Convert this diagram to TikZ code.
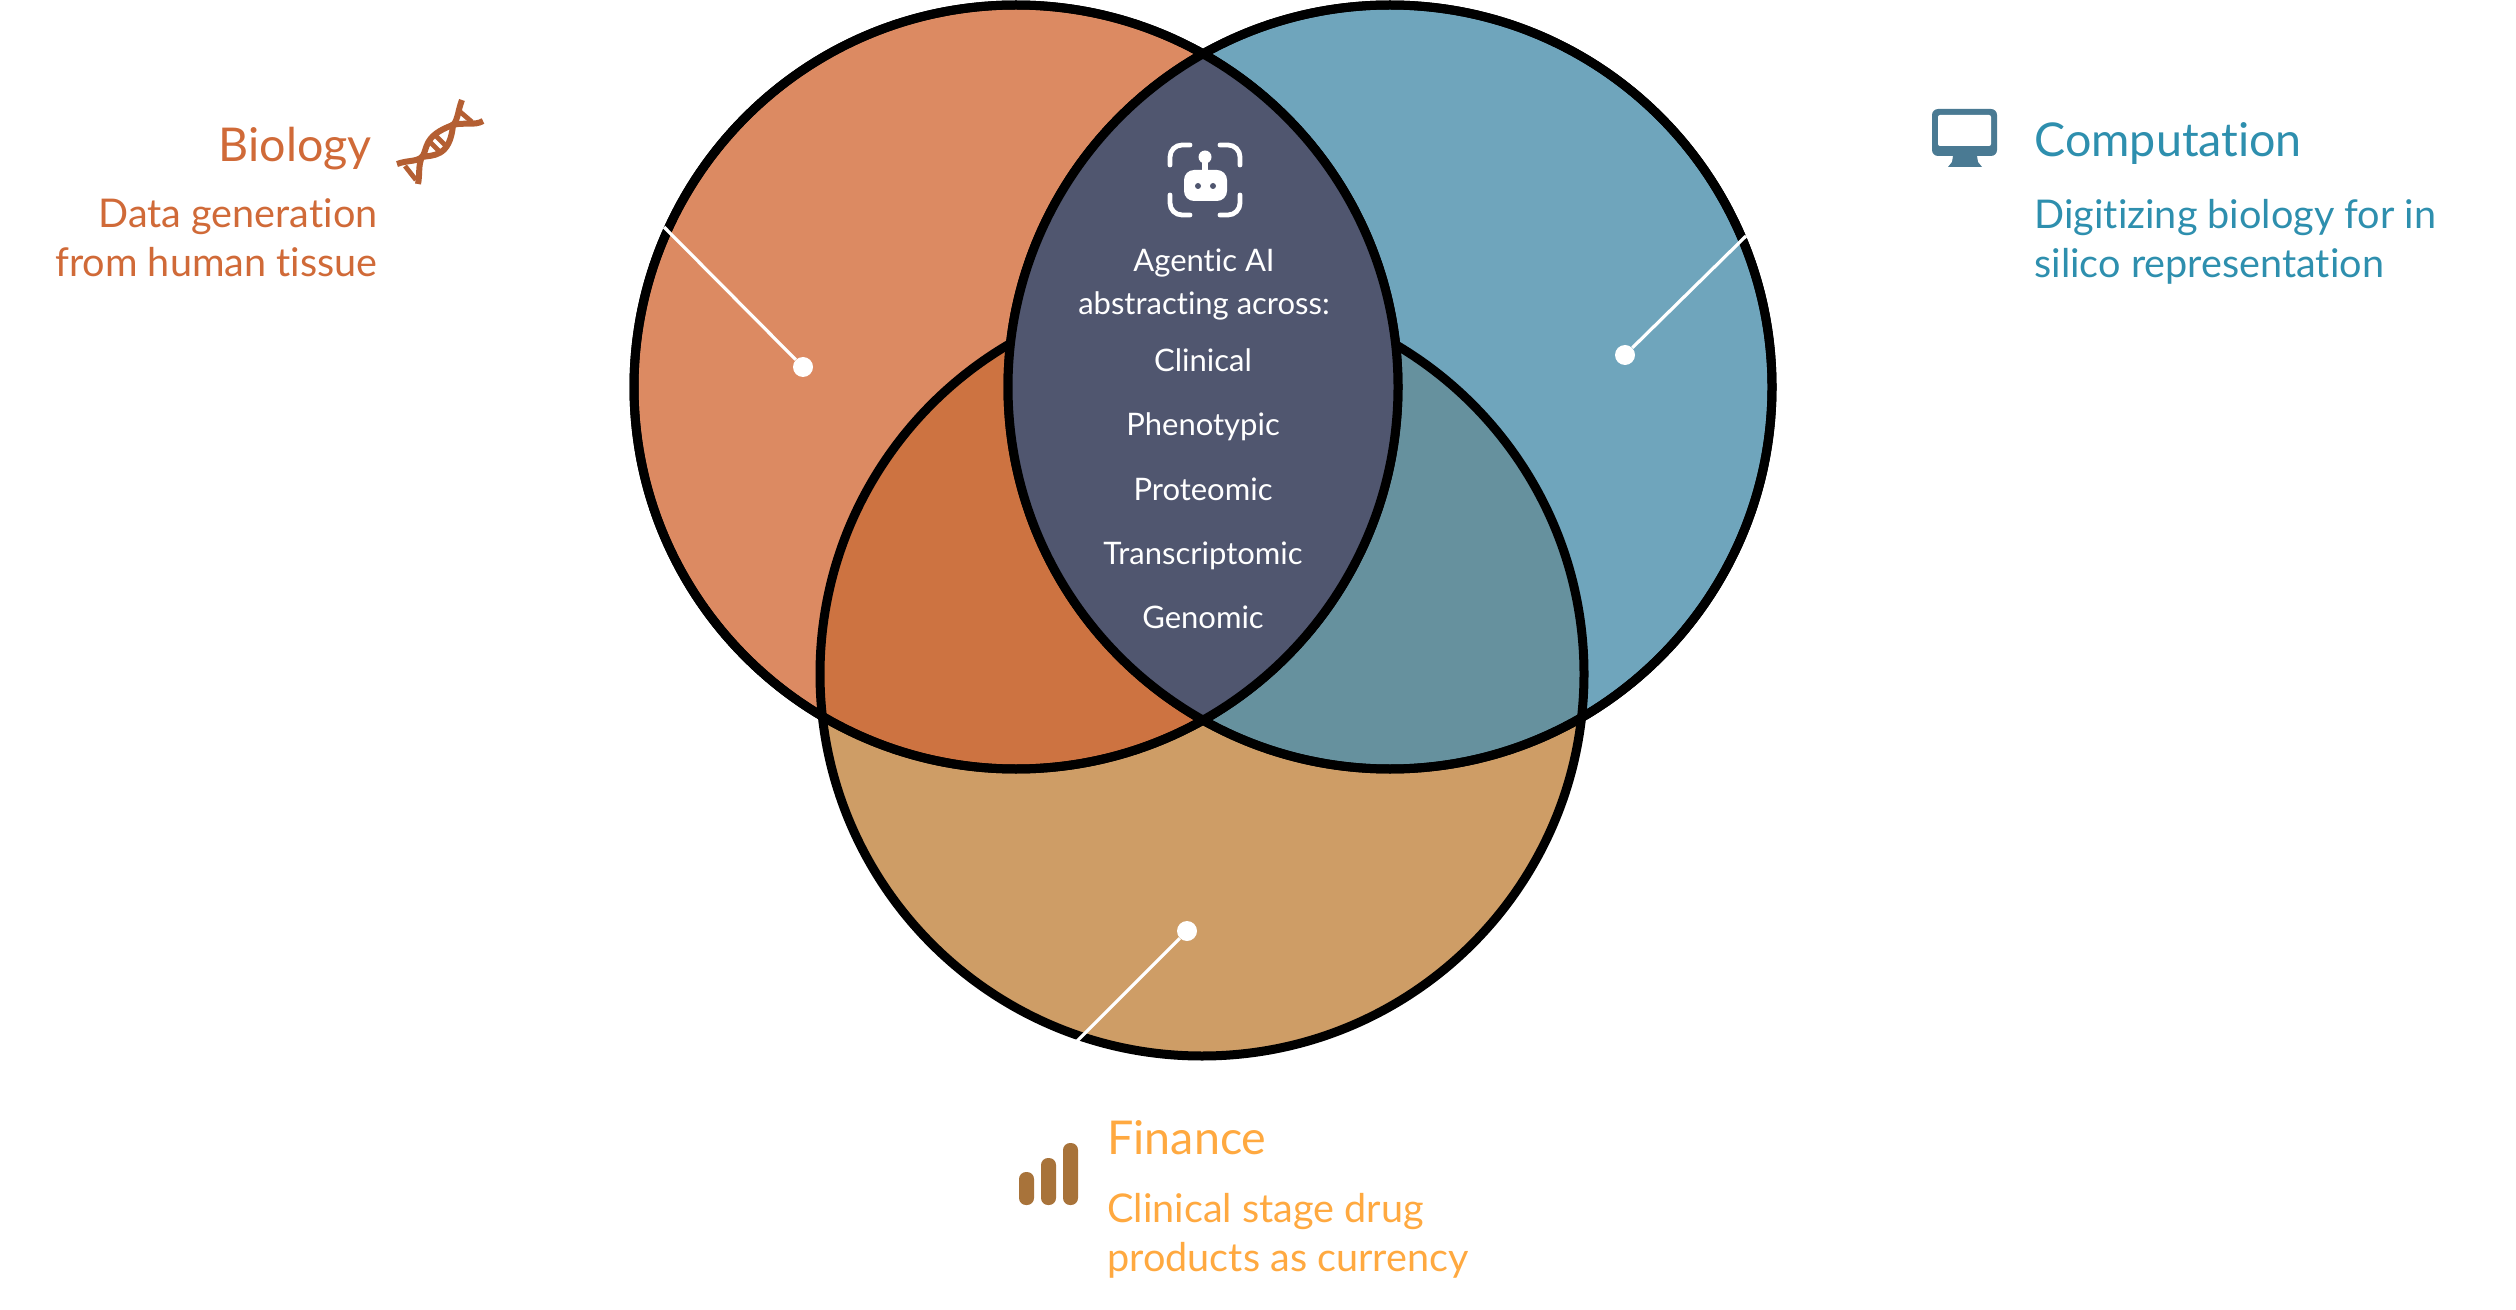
\documentclass[tikz,border=0pt]{standalone}
\usepackage{fontspec}
\setmainfont{Lato}[Ligatures=NoCommon]
\usetikzlibrary{positioning}
\definecolor{biofill}{HTML}{DC8A62}
\definecolor{compfill}{HTML}{6FA5BC}
\definecolor{finfill}{HTML}{CE9D66}
\definecolor{biofin}{HTML}{CD7341}
\definecolor{compfin}{HTML}{66919E}
\definecolor{corefill}{HTML}{50566F}
\definecolor{biotext}{HTML}{D06A38}
\definecolor{comptext}{HTML}{2E8FAE}
\definecolor{fintext}{HTML}{FFA940}
\definecolor{bioicon}{HTML}{B45F33}
\definecolor{compicon}{HTML}{4A7A93}
\definecolor{finicon}{HTML}{A8733A}
\def\biocircle{(1016,387) circle (382)}
\def\compcircle{(1390,387) circle (382)}
\def\fincircle{(1202,674) circle (382)}
\begin{document}
\begin{tikzpicture}[
  x=0.5pt,
  y=-0.5pt,
  venn/.style={circle, draw=black, line width=4.5pt, minimum size=382pt, inner sep=0pt, outer sep=0pt},
  title/.style={inner sep=0pt, font=\fontsize{23.3}{28}\selectfont},
  sub/.style={inner sep=0pt, align=left, font=\fontsize{19.8}{24.5}\selectfont},
  coretext/.style={inner sep=0pt, text=white, font=\fontsize{15.5}{21.5}\selectfont},
  leader/.style={draw=white, line width=1.6pt},
  enddot/.style={circle, fill=white, minimum size=10pt, inner sep=0pt}
]
\useasboundingbox (0,0) rectangle (2516,1310);

% fills
\fill[biofill] \biocircle;
\fill[compfill] \compcircle;
\fill[finfill] \fincircle;
\begin{scope}
  \clip \fincircle;
  \fill[biofin] \biocircle;
  \fill[compfin] \compcircle;
\end{scope}

% outlines
\node[venn] (fin) at (1202,674) {};
\node[venn] (bio) at (1016,387) {};
\node[venn] (comp) at (1390,387) {};

% core lens sits over the finance outline
\begin{scope}
  \clip \biocircle;
  \fill[corefill] \compcircle;
\end{scope}
\draw[black, line width=4.5pt] (bio.center) circle (382);
\draw[black, line width=4.5pt] (comp.center) circle (382);

% leaders
\node[enddot] (biodot) at (803,367) {};
\node[enddot] (compdot) at (1625,355) {};
\node[enddot] (findot) at (1187,931) {};
\coordinate (bioend) at (664,227);
\coordinate (compend) at (1746,236);
\coordinate (finend) at (1077,1041);
\draw[leader] (biodot) -- (bioend);
\draw[leader] (compdot) -- (compend);
\draw[leader] (findot) -- (finend);

% labels
\node[title, text=biotext, anchor=base east] (biotitle) at (372,162) {Biology};
\node[sub, text=biotext, anchor=base east, align=right] (biosub) at (378,277) {Data generation\\from human tissue};
\node[title, text=comptext, anchor=base west] (comptitle) at (2034,157) {Computation};
\node[sub, text=comptext, anchor=base west] (compsub) at (2034,278) {Digitizing biology for in\\silico representation};
\node[title, text=fintext, anchor=base west] (fintitle) at (1107,1154) {Finance};
\node[sub, text=fintext, anchor=base west] (finsub) at (1107,1271) {Clinical stage drug\\products as currency};

% centre text
\node[coretext, anchor=base, align=center] (coretitle) at (1204,315) {Agentic AI\\abstracting across:};
\node[coretext, anchor=base] (clinical) at (1203,372) {Clinical};
\node[coretext, anchor=base] (phenotypic) at (1203,436) {Phenotypic};
\node[coretext, anchor=base] (proteomic) at (1203,500) {Proteomic};
\node[coretext, anchor=base] (transcriptomic) at (1203,564) {Transcriptomic};
\node[coretext, anchor=base] (genomic) at (1203,628) {Genomic};

% robot icon
\draw[white, line width=2.4pt, line cap=round] (1170,165) -- (1170,157) arc (180:270:12) -- (1190,145);
\draw[white, line width=2.4pt, line cap=round] (1220,145) -- (1228,145) arc (270:360:12) -- (1240,165);
\draw[white, line width=2.4pt, line cap=round] (1170,195) -- (1170,203) arc (180:90:12) -- (1190,215);
\draw[white, line width=2.4pt, line cap=round] (1220,215) -- (1228,215) arc (90:0:12) -- (1240,195);
\fill[white, rounded corners=5pt] (1184,170) rectangle (1227,201);
\fill[white] (1205,157) circle (6.5);
\fill[white] (1202,160) rectangle (1208,172);
\fill[corefill] (1198,186) circle (3) (1213,186) circle (3);

% monitor icon
\fill[compicon, rounded corners=3pt] (1932,109) rectangle (1997,156);
\fill[white, rounded corners=1pt] (1938,115) rectangle (1991,146);
\fill[compicon] (1953,156) -- (1977,156) -- (1978,162) -- (1982,167) -- (1948,167) -- (1952,162) -- cycle;

% bar icon
\foreach \xa/\ytop in {1019/1172, 1041/1158, 1063/1143}
  \fill[finicon, rounded corners=3.5pt] (\xa,\ytop) rectangle (\xa+15,1205);

% dna icon
\draw[bioicon, line width=3pt] (397,164) .. controls (408,160) and (416,162) .. (422,157)
  .. controls (428,150) and (422,136) .. (453,125) .. controls (458,120) and (458,110) .. (462,100);
\draw[bioicon, line width=3pt] (418,184) .. controls (420,175) and (418,165) .. (422,157)
  .. controls (432,155) and (450,158) .. (453,125) .. controls (462,122) and (475,126) .. (483,121);
\foreach \xa/\ya/\xb/\yb in {405/166/416/180, 428/140/440/152, 434/134/446/146, 458/110/472/122}
  \draw[bioicon, line width=2.4pt] (\xa,\ya) -- (\xb,\yb);
\end{tikzpicture}
\end{document}
